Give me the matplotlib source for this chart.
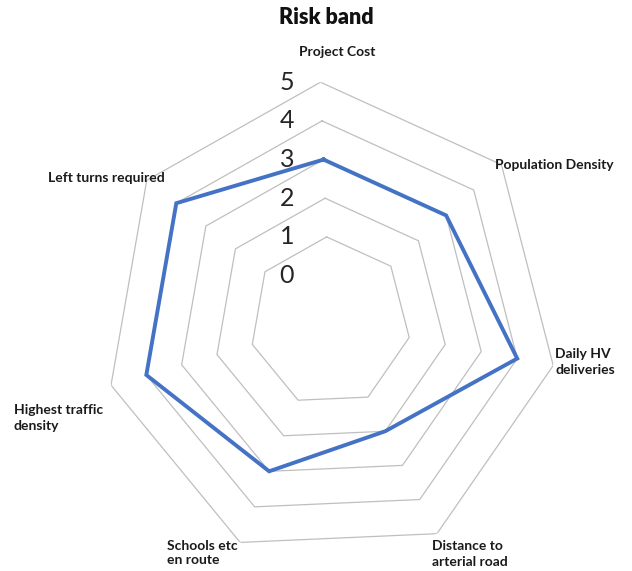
import numpy as np
import matplotlib.pyplot as plt

# risk band scores per criterion (0-5)
categories = ['Project Cost', 'Population Density', 'Daily HV\ndeliveries',
              'Distance to\narterial road', 'Schools etc\nen route',
              'Highest traffic\ndensity', 'Left turns required']
scores = [3, 3, 4, 2, 3, 4, 4]
ring_values = [1, 2, 3, 4, 5]
tick_labels = ['0', '1', '2', '3', '4', '5']

W, H = 632, 571
fig = plt.figure(figsize=(W / 100, H / 100), dpi=100)

cx, cy, Rx, Ry = 330, 322, 227, 240
ax = fig.add_axes([(cx - Rx) / W, (H - cy - Ry) / H, 2 * Rx / W, 2 * Ry / H], projection='polar')
ax.set_aspect('auto')

rot = np.radians(2.4)
ax.set_theta_direction(-1)
ax.set_theta_offset(np.pi / 2 + rot)
ax.set_ylim(-1.2, 5)

n = len(categories)
theta = np.arange(n) * 2 * np.pi / n
theta_c = np.append(theta, theta[0])

for v in ring_values:
    ax.plot(theta_c, [v] * (n + 1), color='#BFBFBF', lw=0.9, zorder=1)

ax.plot(theta_c, scores + scores[:1], color='#4472C4', lw=2.8, zorder=3,
        solid_joinstyle='miter')

ax.grid(False)
ax.set_xticks([])
ax.set_yticks([])
ax.spines['polar'].set_visible(False)
ax.patch.set_visible(False)

# radial value labels down the vertical line above the centre
for i, t in enumerate(tick_labels):
    ax.annotate(t, xy=(rot, i), xytext=(-31, 0), textcoords='offset points',
                ha='center', va='center', fontsize=18, family='Lato',
                fontweight='normal', color='#262626', zorder=4)

# category labels (pixel anchors from the layout)
lab_pos = [(337, 52, 'center'), (495, 165, 'left'), (555, 362, 'left'),
           (432, 554, 'left'), (167, 553, 'left'), (14, 418, 'left'),
           (165, 178, 'right')]
for lab, (x, y, ha) in zip(categories, lab_pos):
    fig.text(x / W, 1 - y / H, lab, ha=ha, va='center', fontsize=10,
             family='Lato', fontweight='bold', color='#1a1a1a',
             linespacing=1.3)

fig.text(326 / W, 1 - 17 / H, 'Risk band', ha='center', va='center',
         fontsize=15.5, family='Lato', fontweight='heavy', color='#111111')

fig.savefig('out.png', dpi=100)
